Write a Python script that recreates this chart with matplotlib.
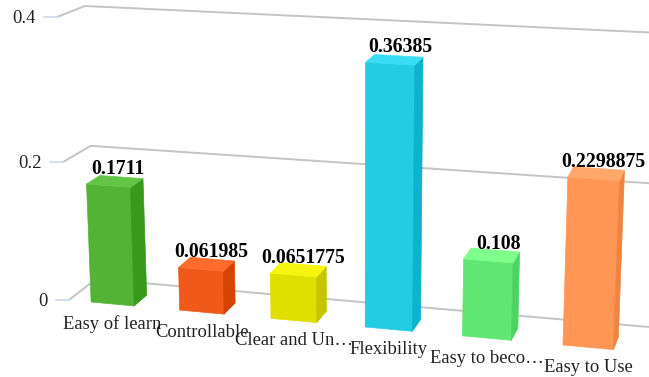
import numpy as np
import matplotlib
matplotlib.use("Agg")
import matplotlib.pyplot as plt
from matplotlib.patches import Polygon

plt.rcParams['font.family'] = ['Liberation Serif', 'DejaVu Serif']

categories = ['Easy of learn', 'Controllable', 'Clear and Un…', 'Flexibility', 'Easy to beco…', 'Easy to Use']
values = [0.1711, 0.061985, 0.0651775, 0.36385, 0.108, 0.2298875]
value_labels = ['0.1711', '0.061985', '0.0651775', '0.36385', '0.108', '0.2298875']
y_ticks = [0, 0.2, 0.4]
y_tick_labels = ['0', '0.2', '0.4']

front_colors = ['#52B334', '#EF5A1B', '#E0E000', '#23CBE5', '#60E672', '#FF9655']
side_colors = ['#379A1B', '#D54300', '#C6C600', '#0BB3CD', '#4DD45F', '#EE843F']
top_colors = ['#63C545', '#FF6B2D', '#F5F510', '#38DDF5', '#7FFF8C', '#FFA86A']

y_max = 0.4
n = len(categories)

# corners of the plot box on the canvas, [x index][y index][z index]
box = np.array([
    [[(69, 300), (96, 279)], [(57, 17), (85, 6)]],
    [[(640, 352), (649, 327)], [(652, 51), (661, 33)]],
], dtype=float)


def warp(t, r):
    # perspective foreshortening along one axis
    return t / (t + (1 - t) * r)


def project(u, v, z):
    s = warp(u / n, 1.1)
    t = warp(v / y_max, 1.05)
    p = 0
    for i, a in enumerate((1 - s, s)):
        for j, b in enumerate((1 - t, t)):
            for k, c in enumerate((1 - z, z)):
                p = p + a * b * c * box[i, j, k]
    return p


fig = plt.figure(figsize=(6.49, 3.77), dpi=100)
ax = fig.add_axes([0, 0, 1, 1])
ax.set_xlim(0, 649)
ax.set_ylim(377, 0)
ax.axis('off')

# gridlines on the side and back walls, with the small axis ticks
for v, lab in zip(y_ticks, y_tick_labels):
    pts = np.array([project(0, v, 0), project(0, v, 1), project(n, v, 1)])
    ax.plot(pts[:, 0], pts[:, 1], color='#C4C4C4', lw=1.4, zorder=1, solid_capstyle='butt')
    ax.plot([pts[0, 0] - 13, pts[0, 0]], [pts[0, 1], pts[0, 1]], color='#C9DAEA', lw=1.2, zorder=1)
    ax.text(pts[0, 0] - 21, pts[0, 1] + 1.5, lab, ha='right', va='center', fontsize=13.4, color='#222222')

half = 0.245
depth = 0.5
for i, val in enumerate(values):
    l, r = i + 0.5 - half, i + 0.5 + half
    fl0, fr0 = project(l, 0, 0), project(r, 0, 0)
    fl1, fr1 = project(l, val, 0), project(r, val, 0)
    bl1, br1 = project(l, val, depth), project(r, val, depth)
    br0 = project(r, 0, depth)
    edge = dict(lw=0.5, joinstyle='round', zorder=2)
    ax.add_patch(Polygon([fl0, fr0, fr1, fl1], fc=front_colors[i], ec=front_colors[i], **edge))
    ax.add_patch(Polygon([fr0, br0, br1, fr1], fc=side_colors[i], ec=side_colors[i], **edge))
    ax.add_patch(Polygon([fl1, fr1, br1, bl1], fc=top_colors[i], ec=top_colors[i], **edge))

    # value above the top face, category name under the bar
    top = project(i + 0.5, val, 0)
    ax.text(top[0] + 10, top[1] - 17, value_labels[i], ha='center', va='center',
            fontsize=14.2, fontweight='bold', color='black', zorder=3)
    base = project(i + 0.5, 0, 0)
    ax.text(base[0], base[1] + 20.5, categories[i], ha='center', va='center',
            fontsize=13.4, color='#222222', zorder=3)

fig.savefig('out.png', dpi=100)
